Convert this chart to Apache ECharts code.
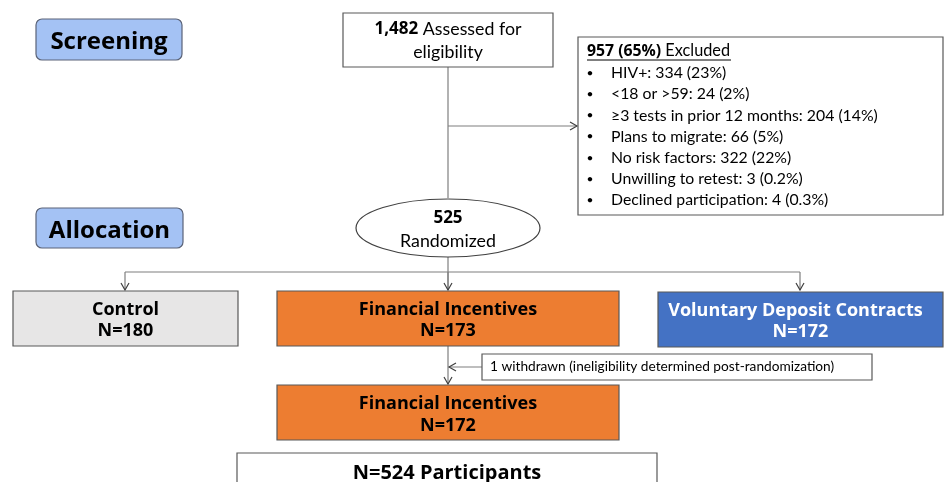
<!DOCTYPE html>
<html>
<head>
<meta charset="utf-8">
<script src="https://cdn.jsdelivr.net/npm/echarts@6/dist/echarts.min.js"></script>
<style>
    html, body { margin: 0; padding: 0; background: #fff; }
    #chart { width: 945px; height: 482px; }
</style>
</head>
<body>
<div id="chart"></div>
<script>
// flow counts
const stageLabels = ['Screening', 'Allocation'];
const assessedCount = '1,482';
const excludedCount = '957 (65%)';
const exclusionReasons = [
    'HIV+: 334 (23%)',
    '<18 or >59: 24 (2%)',
    '\u22653 tests in prior 12 months: 204 (14%)',
    'Plans to migrate: 66 (5%)',
    'No risk factors: 322 (22%)',
    'Unwilling to retest: 3 (0.2%)',
    'Declined participation: 4 (0.3%)'
];
const randomizedCount = '525';
const armNames = ['Control', 'Financial Incentives', 'Voluntary Deposit Contracts'];
const armCounts = [180, 173, 172];
const withdrawnNote = '1 withdrawn (ineligibility determined post-randomization)';
const finalArmCount = 172;
const participantsCount = 524;

const FONT = 'Lato';
const BOLD_FONT = 'Open Sans';
const LINE = '#7f7f7f';
const ARROW = '#404040';

// layout (pixels)
const stageBoxes = [[36, 19, 146, 41], [36, 208, 147, 40]];
const armBoxes = [[13, 291, 225, 55], [277, 291, 342, 55], [658, 292, 285, 55]];
const armFills = ['#e7e6e6', '#ed7d31', '#4472c4'];
const armText = ['#000', '#000', '#fff'];
const armX = [125, 448, 800];

function line(pts, color, w) {
    return {
        type: 'polyline',
        shape: { points: pts },
        style: { stroke: color || LINE, lineWidth: w || 1.2, fill: null },
        silent: true
    };
}

function arrowDown(x, y) {
    return line([[x - 4, y - 7], [x, y], [x + 4, y - 7]], ARROW, 1.2);
}
function arrowRight(x, y) {
    return line([[x - 7, y - 4], [x, y], [x - 7, y + 4]], ARROW, 1.2);
}
function arrowLeft(x, y) {
    return line([[x + 7, y - 4], [x, y], [x + 7, y + 4]], ARROW, 1.2);
}

function box(b, fill, stroke, r) {
    return {
        type: 'rect',
        shape: { x: b[0], y: b[1], width: b[2], height: b[3], r: r || 0 },
        style: { fill: fill, stroke: stroke || '#595959', lineWidth: 1.2 }
    };
}

function label(x, y, text, opts) {
    opts = opts || {};
    return {
        type: 'text',
        x: x,
        y: y,
        style: Object.assign({
            text: text,
            fontFamily: FONT,
            fontSize: 17.8,
            fill: '#000',
            align: 'center',
            verticalAlign: 'middle'
        }, opts)
    };
}

// Open Sans sits a bit high compared to the original face
function boldLabel(x, y, text, size, color) {
    return label(x, y + 2, text, {
        fontFamily: BOLD_FONT,
        fontWeight: 'bold',
        fontSize: size,
        fill: color || '#000'
    });
}

const elements = [];

// stage labels
stageLabels.forEach(function (s, i) {
    const b = stageBoxes[i];
    elements.push(box(b, '#a4c2f4', '#5a6378', 6));
    elements.push(boldLabel(b[0] + b[2] / 2, b[1] + b[3] / 2 + 1, s, 24));
});

// connectors
elements.push(line([[448, 67], [448, 198]]));
elements.push(line([[448, 126], [577, 126]]));
elements.push(arrowRight(577, 126));
elements.push(line([[448, 257], [448, 290]]));
elements.push(line([[armX[0], 272], [armX[2], 272]]));
armX.forEach(function (x) {
    elements.push(line([[x, 272], [x, 290]]));
    elements.push(arrowDown(x, 290));
});
elements.push(line([[448, 346], [448, 384]]));
elements.push(arrowDown(448, 384));
elements.push(line([[482, 367], [449, 367]]));
elements.push(arrowLeft(449, 367));

// assessed
elements.push(box([343, 13, 210, 54], '#fff'));
elements.push({
    type: 'text',
    x: 448,
    y: 41,
    style: {
        text: '{b|' + assessedCount + '} Assessed for\neligibility',
        fontFamily: FONT,
        fontSize: 17.8,
        lineHeight: 23,
        fill: '#000',
        align: 'center',
        verticalAlign: 'middle',
        rich: { b: { fontFamily: BOLD_FONT, fontSize: 17, fontWeight: 'bold', lineHeight: 23 } }
    }
});

// excluded
elements.push(box([578, 37, 365, 178], '#fff'));
elements.push({
    type: 'text',
    x: 587,
    y: 51,
    style: {
        text: '{b|' + excludedCount + '} Excluded',
        fontFamily: FONT,
        fontSize: 16.3,
        fill: '#000',
        align: 'left',
        verticalAlign: 'middle',
        rich: { b: { fontFamily: BOLD_FONT, fontSize: 15.8, fontWeight: 'bold' } }
    }
});
elements.push(line([[587, 60], [731, 60]], '#000', 1));
exclusionReasons.forEach(function (r, i) {
    const y = 73 + i * 21.2;
    elements.push(label(590, y, '\u2022', { fontSize: 12, align: 'center' }));
    elements.push(label(611, y, r, { fontSize: 15.8, align: 'left' }));
});

// randomized
elements.push({
    type: 'ellipse',
    shape: { cx: 448, cy: 228, rx: 92, ry: 29 },
    style: { fill: '#fff', stroke: '#404040', lineWidth: 1.2 }
});
elements.push(boldLabel(448, 216, randomizedCount, 17));
elements.push(label(448, 241, 'Randomized'));

// arms
armNames.forEach(function (n, i) {
    const b = armBoxes[i];
    elements.push(box(b, armFills[i]));
    elements.push(boldLabel(b[0] + b[2] / 2 - (i === 2 ? 5 : 0), b[1] + 17, n, 18, armText[i]));
    elements.push(boldLabel(b[0] + b[2] / 2, b[1] + 38, 'N=' + armCounts[i], 18, armText[i]));
});

// withdrawn
elements.push(box([482, 354, 390, 26], '#fff'));
elements.push(label(490, 367, withdrawnNote, { fontSize: 13.7, align: 'left' }));

// after withdrawal
elements.push(box([277, 385, 342, 55], armFills[1]));
elements.push(boldLabel(448, 402, armNames[1], 18));
elements.push(boldLabel(448, 424, 'N=' + finalArmCount, 18));

// participants
elements.push(box([237, 453, 420, 40], '#fff'));
elements.push(boldLabel(447, 471, 'N=' + participantsCount + ' Participants', 20));

const chart = echarts.init(document.getElementById('chart'), null, { renderer: 'canvas' });
chart.setOption({
    backgroundColor: '#fff',
    animation: false,
    graphic: { elements: elements }
});
</script>
</body>
</html>
